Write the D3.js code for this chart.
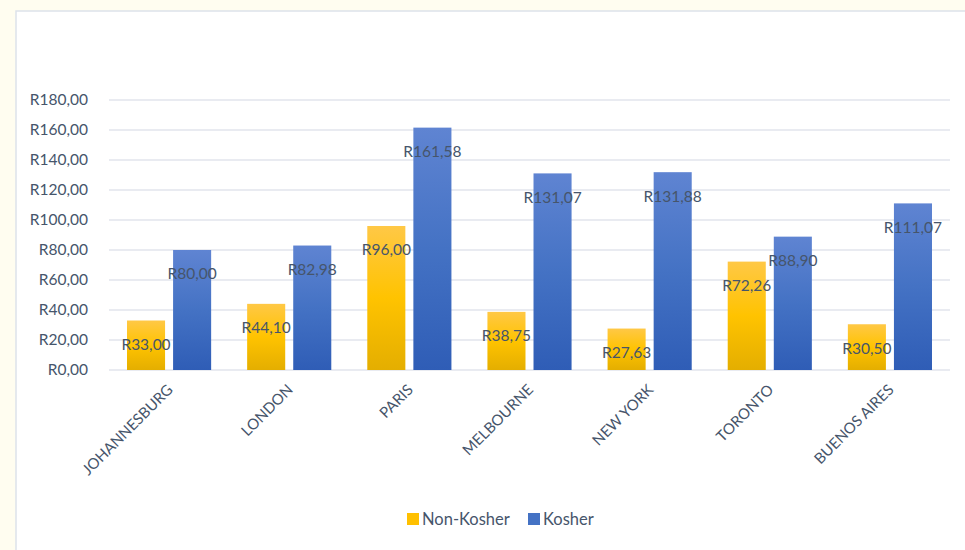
<!DOCTYPE html>
<html>
<head>
<meta charset="utf-8">
<script src="https://cdn.jsdelivr.net/npm/d3@7"></script>
<style>
  body { margin: 0; background: #fffdf0; }
  svg { display: block; }
</style>
</head>
<body>
<svg width="965" height="550"></svg>
<script>
const cities = ["JOHANNESBURG", "LONDON", "PARIS", "MELBOURNE", "NEW YORK", "TORONTO", "BUENOS AIRES"];
const nonKosher = [33.00, 44.10, 96.00, 38.75, 27.63, 72.26, 30.50];
const kosher = [80.00, 82.98, 161.58, 131.07, 131.88, 88.90, 111.07];
const yTicks = [0, 20, 40, 60, 80, 100, 120, 140, 160, 180];
const seriesNames = ["Non-Kosher", "Kosher"];

let width = 965, height = 550;
let margin = { top: 100, right: 15, bottom: 180, left: 109 };
const fmt = v => "R" + v.toFixed(2).replace(".", ",");

const svg = d3.select("svg");
const defs = svg.append("defs");

let gy = defs.append("linearGradient").attr("id", "gYellow").attr("x1", 0).attr("y1", 0).attr("x2", 0).attr("y2", 1);
gy.append("stop").attr("offset", "0%").attr("stop-color", "#ffc846");
gy.append("stop").attr("offset", "50%").attr("stop-color", "#ffc300");
gy.append("stop").attr("offset", "100%").attr("stop-color", "#e4ae00");
let gb = defs.append("linearGradient").attr("id", "gBlue").attr("x1", 0).attr("y1", 0).attr("x2", 0).attr("y2", 1);
gb.append("stop").attr("offset", "0%").attr("stop-color", "#5f84d2");
gb.append("stop").attr("offset", "50%").attr("stop-color", "#4472c4");
gb.append("stop").attr("offset", "100%").attr("stop-color", "#2f5db6");
const fills = ["url(#gYellow)", "url(#gBlue)"];
const legendColors = ["#ffc000", "#4472c4"];

// chart area
svg.append("rect")
    .attr("x", 16).attr("y", 11)
    .attr("width", width + 10).attr("height", height + 10)
    .attr("fill", "#fff").attr("stroke", "#dde2ea").attr("stroke-width", 1.5);

x = d3.scaleBand()
    .domain(cities)
    .range([margin.left, width - margin.right]);
x1 = d3.scaleBand()
    .domain([0, 1])
    .range([18, x.bandwidth() - 18])
    .paddingInner(0.174);
y = d3.scaleLinear()
    .domain([0, 180])
    .range([370, 100]);

// grid
svg.append("g")
    .selectAll("line")
    .data(yTicks)
    .join("line")
    .attr("x1", margin.left).attr("x2", width - margin.right)
    .attr("y1", d => y(d)).attr("y2", d => y(d))
    .attr("stroke", "#e2e5ec").attr("stroke-width", 1.5);

const textColor = "#46556b";
const font = "Lato, 'Open Sans', sans-serif";

svg.append("g")
    .attr("transform", "translate(" + (margin.left - 18) + ",0)")
    .call(d3.axisLeft(y).tickValues(yTicks).tickSize(0).tickFormat(fmt))
    .call(g => g.select(".domain").remove())
    .call(g => g.selectAll("text")
        .attr("fill", textColor).attr("font-size", 15.5).attr("font-family", font));

svg.append("g")
    .attr("transform", "translate(0,370)")
    .call(d3.axisBottom(x).tickSize(0))
    .call(g => g.select(".domain").remove())
    .call(g => g.selectAll("text")
        .attr("fill", textColor).attr("font-size", 15).attr("font-family", font)
        .attr("text-anchor", "end")
        .attr("transform", "translate(1,17) rotate(-45)")
        .attr("dy", "0.35em").attr("y", 0));

const groups = svg.append("g")
    .selectAll("g")
    .data(cities)
    .join("g")
    .attr("transform", d => "translate(" + x(d) + ",0)");

const rows = (d, i) => [nonKosher[i], kosher[i]].map((v, s) => ({ v, s }));

groups.selectAll("rect")
    .data(rows)
    .join("rect")
    .attr("x", d => x1(d.s))
    .attr("width", x1.bandwidth())
    .attr("y", d => y(d.v))
    .attr("height", d => y(0) - y(d.v))
    .attr("fill", d => fills[d.s]);

groups.selectAll("text")
    .data(rows)
    .join("text")
    .attr("x", d => x1(d.s) + x1.bandwidth() / 2)
    .attr("y", d => y(d.v) + 24)
    .attr("dy", "0.35em")
    .attr("text-anchor", "middle")
    .attr("fill", textColor).attr("font-size", 15.5).attr("font-family", font)
    .text(d => fmt(d.v));

// legend
const legend = svg.append("g").attr("transform", "translate(407,519)");
const lx = [0, 121];
seriesNames.forEach((name, i) => {
    legend.append("rect").attr("x", lx[i]).attr("y", -6).attr("width", 12).attr("height", 12)
        .attr("fill", legendColors[i]);
    legend.append("text").attr("x", lx[i] + 15).attr("y", 0).attr("dy", "0.35em")
        .attr("fill", textColor).attr("font-size", 16.5).attr("font-family", font)
        .text(name);
});
</script>
</body>
</html>
